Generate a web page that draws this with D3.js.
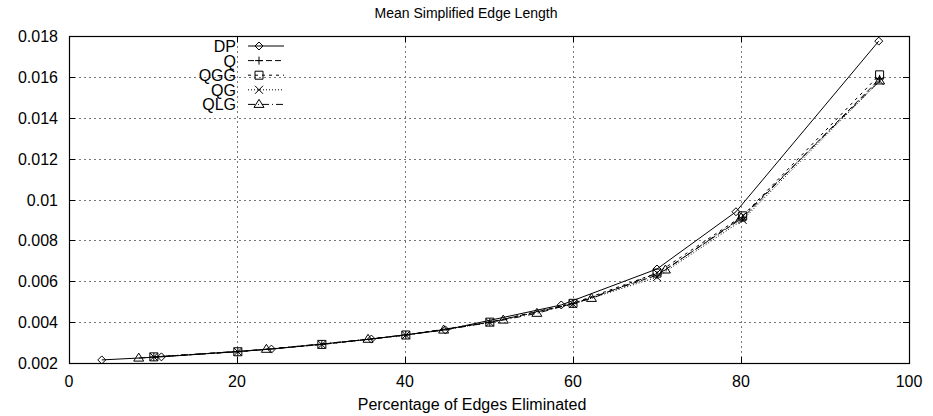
<!DOCTYPE html>
<html>
<head>
<meta charset="utf-8">
<script src="https://cdn.jsdelivr.net/npm/d3@7"></script>
<style>
  body { margin: 0; background: #fff; }
  text { font-family: "Liberation Sans", Arial, sans-serif; fill: #000; }
</style>
</head>
<body>
<div id="container"></div>
<script>
const width = 933,
  height = 416,
  margin = { top: 36, bottom: 53, left: 69, right: 24 };

/** -------------- DATA -------------- */

const xTicks = [0, 20, 40, 60, 80, 100];
const yTicks = [0.002, 0.004, 0.006, 0.008, 0.01, 0.012, 0.014, 0.016, 0.018];
const yTickLabels = ["0.002", "0.004", "0.006", "0.008", "0.01", "0.012", "0.014", "0.016", "0.018"];

const dpX = [3.9, 11.0, 24.1, 36.0, 44.8, 58.6, 70.0, 79.4, 96.4];
const dpY = [0.00215, 0.0023, 0.00268, 0.00317, 0.00362, 0.00484, 0.0066, 0.0094, 0.01775];

const qX = [10.1, 20.1, 30.1, 40.1, 50.1, 60.0, 70.0, 80.2, 96.5];
const qY = [0.0023, 0.00255, 0.00291, 0.00337, 0.00399, 0.0049, 0.0063, 0.0091, 0.0159];
const qggY = [0.0023, 0.00255, 0.00291, 0.00337, 0.004, 0.00492, 0.0064, 0.0092, 0.0161];
const qgY = [0.0023, 0.00255, 0.0029, 0.00336, 0.00398, 0.00488, 0.0062, 0.0090, 0.0158];

const qlgX = [8.3, 23.5, 35.6, 44.6, 51.7, 55.7, 62.2, 71.0, 80.0, 96.5];
const qlgY = [0.00224, 0.00267, 0.00316, 0.00361, 0.0041, 0.00443, 0.00516, 0.00655, 0.0091, 0.0158];

const seriesNames = ["DP", "Q", "QGG", "QG", "QLG"];
const seriesX = [dpX, qX, qX, qX, qlgX];
const seriesY = [dpY, qY, qggY, qgY, qlgY];
const dashes = [null, "6,3", "3,4", "1,2", "7,3,1,3"];
const markers = ["diamond", "plus", "square", "cross", "triangle"];

/** -------------- SCALES -------------- */

const x = d3.scaleLinear([0, 100], [margin.left, width - margin.right]);
const y = d3.scaleLinear([0.002, 0.018], [height - margin.bottom, margin.top]);

const svg = d3.select("#container")
  .append("svg")
  .attr("width", width)
  .attr("height", height);

// grid
const grid = svg.append("g")
  .attr("stroke", "#777")
  .attr("stroke-width", 1)
  .attr("stroke-dasharray", "2,3");

grid.selectAll("line.gx")
  .data(xTicks.slice(1, -1))
  .join("line")
    .attr("x1", d => Math.round(x(d)) + 0.5)
    .attr("x2", d => Math.round(x(d)) + 0.5)
    .attr("y1", y(0.002))
    .attr("y2", y(0.018));

grid.selectAll("line.gy")
  .data(yTicks.slice(1, -1))
  .join("line")
    .attr("y1", d => Math.round(y(d)) + 0.5)
    .attr("y2", d => Math.round(y(d)) + 0.5)
    .attr("x1", x(0))
    .attr("x2", x(100));

// axes (ticks inward, mirrored)
const tick = 6;
const axes = svg.append("g").attr("stroke", "#000");

axes.append("rect")
  .attr("x", Math.round(x(0)) + 0.5)
  .attr("y", Math.round(y(0.018)) + 0.5)
  .attr("width", Math.round(x(100)) - Math.round(x(0)))
  .attr("height", Math.round(y(0.002)) - Math.round(y(0.018)))
  .attr("fill", "none")
  .attr("stroke-width", 1.2);

xTicks.forEach(d => {
  const px = Math.round(x(d)) + 0.5;
  axes.append("line").attr("x1", px).attr("x2", px)
    .attr("y1", y(0.002)).attr("y2", y(0.002) - tick);
  axes.append("line").attr("x1", px).attr("x2", px)
    .attr("y1", y(0.018)).attr("y2", y(0.018) + tick);
});
yTicks.forEach(d => {
  const py = Math.round(y(d)) + 0.5;
  axes.append("line").attr("y1", py).attr("y2", py)
    .attr("x1", x(0)).attr("x2", x(0) + tick);
  axes.append("line").attr("y1", py).attr("y2", py)
    .attr("x1", x(100)).attr("x2", x(100) - tick);
});

svg.append("g").selectAll("text")
  .data(xTicks)
  .join("text")
    .attr("x", d => x(d))
    .attr("y", height - margin.bottom + 24)
    .attr("text-anchor", "middle")
    .attr("font-size", 16)
    .text(d => d);

svg.append("g").selectAll("text")
  .data(yTicks)
  .join("text")
    .attr("x", x(0) - 11)
    .attr("y", d => y(d) + 6)
    .attr("text-anchor", "end")
    .attr("font-size", 16)
    .text((d, i) => yTickLabels[i]);

svg.append("text")
  .attr("x", 466)
  .attr("y", 18)
  .attr("text-anchor", "middle")
  .attr("font-size", 14)
  .text("Mean Simplified Edge Length");

svg.append("text")
  .attr("x", 472)
  .attr("y", height - 6)
  .attr("text-anchor", "middle")
  .attr("font-size", 16)
  .text("Percentage of Edges Eliminated");

/** -------------- SERIES -------------- */

const ms = 4;
function drawMarker(g, type, cx, cy) {
  const m = g.append("path")
    .attr("fill", "none")
    .attr("stroke", "#000")
    .attr("stroke-width", 1);
  let p;
  if (type === "diamond") p = `M${cx},${cy - ms}L${cx + ms},${cy}L${cx},${cy + ms}L${cx - ms},${cy}Z`;
  else if (type === "plus") p = `M${cx - ms},${cy}H${cx + ms}M${cx},${cy - ms}V${cy + ms}`;
  else if (type === "square") p = `M${cx - ms},${cy - ms}H${cx + ms}V${cy + ms}H${cx - ms}Z`;
  else if (type === "cross") p = `M${cx - ms},${cy - ms}L${cx + ms},${cy + ms}M${cx - ms},${cy + ms}L${cx + ms},${cy - ms}`;
  else p = `M${cx},${cy - ms - 1}L${cx + ms + 1},${cy + ms - 1}L${cx - ms - 1},${cy + ms - 1}Z`;
  m.attr("d", p);
}

const line = d3.line().x(d => x(d[0])).y(d => y(d[1]));
const plot = svg.append("g");

seriesNames.forEach((name, i) => {
  const pts = seriesX[i].map((v, j) => [v, seriesY[i][j]]);
  const g = plot.append("g");
  g.append("path")
    .datum(pts)
    .attr("d", line)
    .attr("fill", "none")
    .attr("stroke", "#000")
    .attr("stroke-width", 1)
    .attr("stroke-dasharray", dashes[i]);
  pts.forEach(p => drawMarker(g, markers[i], x(p[0]), y(p[1])));
});

/** -------------- LEGEND -------------- */

const legend = svg.append("g");
seriesNames.forEach((name, i) => {
  const ly = 46 + i * 14.6;
  legend.append("text")
    .attr("x", 236)
    .attr("y", ly + 6)
    .attr("text-anchor", "end")
    .attr("font-size", 16)
    .text(name);
  legend.append("line")
    .attr("x1", 248).attr("x2", 284)
    .attr("y1", ly).attr("y2", ly)
    .attr("stroke", "#000")
    .attr("stroke-dasharray", dashes[i]);
  drawMarker(legend, markers[i], 259, ly);
});
</script>
</body>
</html>
